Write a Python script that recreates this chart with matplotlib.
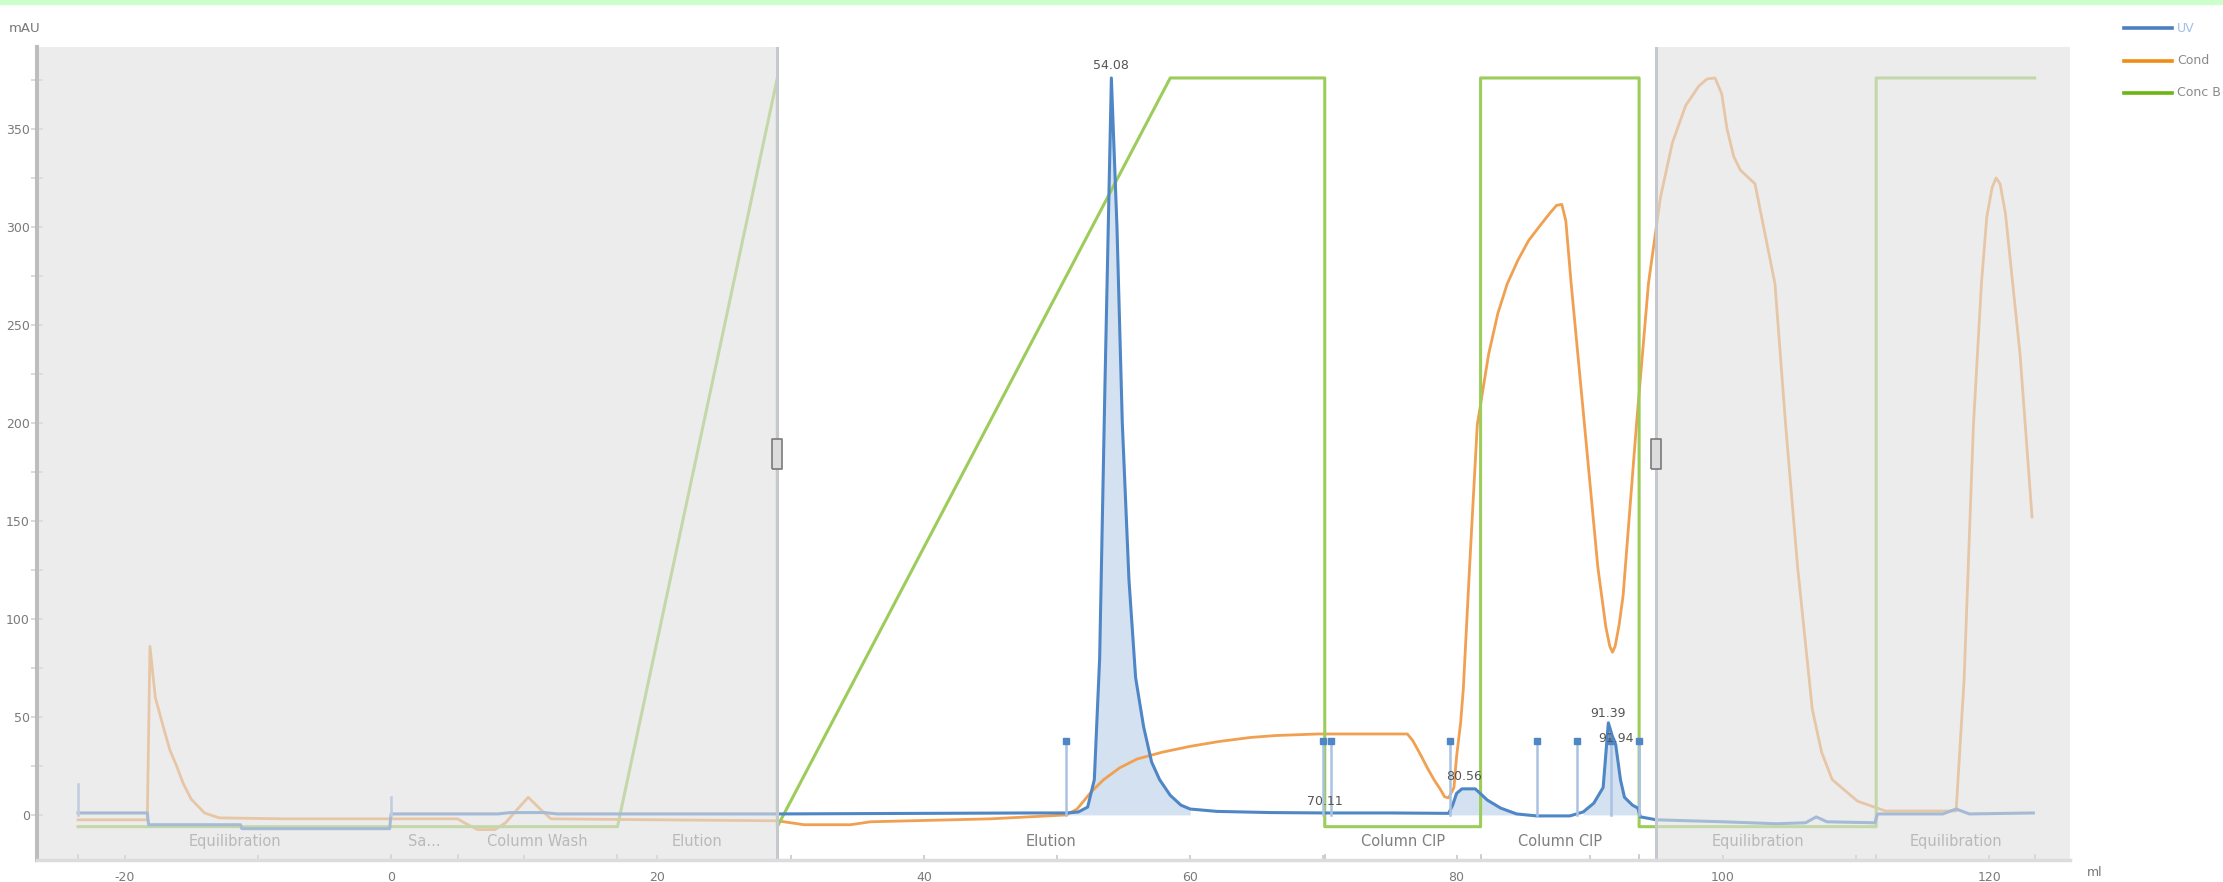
import matplotlib
matplotlib.use("Agg")
import matplotlib.pyplot as plt
from matplotlib.patches import Rectangle
from matplotlib.lines import Line2D
from matplotlib.ticker import MultipleLocator

plt.rcParams["axes.unicode_minus"] = False

# UV 280 nm trace (ml, mAU)
uv_ml = [-23.5, -18.3, -18.2, -11.3, -11.2, -0.1, 0.0, 8.0, 9.0, 11.5, 12.5, 29.0,
         40.0, 48.0, 50.7, 51.6, 52.3, 52.8, 53.2, 53.6, 54.08, 54.5, 54.9, 55.4,
         55.9, 56.5, 57.1, 57.7, 58.5, 59.3, 60.0, 62.0, 66.0, 70.1, 75.0, 79.4,
         79.7, 80.0, 80.4, 81.4, 82.3, 83.3, 84.5, 86.0, 88.5, 89.5, 90.3, 91.0,
         91.39, 91.7, 91.94, 92.3, 92.6, 93.2, 93.6, 93.8, 95.0, 100.0, 104.0,
         106.2, 107.0, 107.8, 111.4, 111.6, 116.5, 117.5, 118.5, 123.3]
uv_mau = [1.0, 1.0, -5.0, -5.0, -7.0, -7.0, 0.5, 0.5, 1.2, 1.2, 0.5, 0.5,
          0.8, 1.0, 1.0, 1.5, 4.0, 18.0, 80.0, 220.0, 376.0, 300.0, 200.0, 120.0,
          70.0, 45.0, 27.0, 18.0, 10.0, 5.0, 3.0, 1.8, 1.2, 1.0, 1.0, 0.8,
          5.0, 11.0, 13.3, 13.3, 7.6, 3.5, 0.5, -0.5, -0.5, 1.5, 6.0, 14.0,
          47.0, 40.0, 36.0, 18.0, 9.0, 5.0, 3.5, -1.0, -2.5, -3.5, -4.5,
          -4.0, -1.0, -3.5, -4.0, 0.5, 0.5, 3.0, 0.5, 1.0]

# conductivity trace, as drawn on the mAU scale
cond_ml = [-23.5, -18.3, -18.1, -17.7, -17.1, -16.6, -16.1, -15.6, -15.0, -14.0,
           -12.9, -8.0, 0.0, 5.0, 5.5, 6.5, 7.8, 8.6, 9.5, 10.3, 11.2, 12.0, 20.0,
           29.0, 31.0, 34.5, 36.0, 45.0, 50.7, 51.5, 52.6, 53.5, 54.7, 56.0, 57.9,
           60.0, 62.2, 64.5, 66.4, 69.6, 76.3, 76.7, 77.3, 77.8, 78.3, 78.8, 79.1,
           79.4, 79.8, 80.0, 80.3, 80.5, 81.0, 81.55, 82.4, 83.1, 83.8, 84.6, 85.4,
           86.3, 87.0, 87.5, 87.9, 88.2, 88.6, 89.6, 90.6, 91.2, 91.5, 91.7, 91.9,
           92.2, 92.5, 93.5, 94.4, 95.3, 96.2, 97.2, 98.2, 98.8, 99.4, 99.9, 100.3,
           100.8, 101.3, 102.4, 103.9, 104.7, 105.6, 106.7, 107.4, 108.2, 110.1,
           112.2, 117.5, 118.1, 118.8, 119.4, 119.8, 120.2, 120.5, 120.8, 121.2,
           122.3, 123.2]
cond_val = [-2.5, -2.5, 86.0, 60.0, 45.0, 33.0, 25.0, 16.0, 8.0, 1.0,
            -1.5, -2.0, -2.0, -2.0, -4.0, -7.5, -7.5, -4.0, 3.0, 9.0, 3.0, -2.0, -2.5,
            -3.0, -5.0, -5.0, -3.5, -2.0, 0.0, 3.0, 12.0, 18.0, 24.0, 28.5, 32.0,
            35.0, 37.5, 39.5, 40.5, 41.3, 41.3, 38.0, 30.6, 24.0, 18.0, 12.8, 9.2,
            8.7, 14.0, 30.0, 47.0, 64.0, 130.0, 199.0, 235.0, 256.0, 271.0, 283.0, 293.0,
            301.0, 307.0, 311.0, 311.5, 303.0, 271.0, 199.0, 126.5, 96.0, 86.0, 83.0, 86.0,
            97.0, 112.0, 199.0, 271.0, 315.0, 343.0, 362.0, 372.0, 375.5, 376.0, 368.0, 350.0,
            336.0, 329.0, 322.0, 271.0, 199.0, 126.5, 54.0, 32.0, 18.0, 7.0,
            2.0, 2.0, 69.0, 199.0, 271.0, 305.0, 320.0, 325.0, 322.0, 307.0,
            235.0, 152.0]

# concentration B (%)
concb_ml = [-23.5, 17.0, 29.0, 29.0, 58.5, 70.1, 70.1, 81.8, 81.8, 93.7, 93.7,
            111.5, 111.5, 123.4]
concb_pct = [0, 0, 100, 0, 100, 100, 0, 0, 100, 100, 0, 0, 100, 100]

series_names = ["UV", "Cond", "Conc B"]

phase_names = ["Equilibration", "Sa...", "Column Wash", "Elution", "Elution",
               "Column CIP", "Column CIP", "Equilibration", "Equilibration"]
phase_start = [-23.5, 0.0, 5.0, 17.0, 29.0, 70.1, 81.8, 93.7, 111.5]
phase_end = [0.0, 5.0, 17.0, 29.0, 70.1, 81.8, 93.7, 111.5, 123.4]

frac_ml = [50.7, 70.0, 70.6, 79.5, 86.0, 89.0, 91.6, 93.7]
frac_top = 37.8
event_ml = [-23.5, 0.0]
event_top = [15.8, 9.3]

peak_ml = [54.08, 70.11, 80.56, 91.39, 91.94]
peak_text = ["54.08", "70.11", "80.56", "91.39", "91.94"]
peak_text_y = [382.6, 6.6, 19.4, 51.5, 38.8]
peak_windows = [(50.7, 60.0), (79.4, 84.5), (89.0, 93.7)]

# run range and inactive (greyed) parts of the run
x_lo, x_hi = -26.58, 126.05
y_lo, y_hi = -23.0, 391.8
inactive = [(x_lo, 29.0), (95.0, x_hi)]
handle_y = 184

blue = "#4f86c6"
orange = "#f0a050"
green = "#9ccc5a"

W, H = 2223, 882
fig = plt.figure(figsize=(W / 100, H / 100), dpi=100)
fig.patches.append(Rectangle((0, 1 - 4 / H), 1, 4 / H, transform=fig.transFigure,
                             color="#ccffcc", zorder=0))
ax = fig.add_axes([37 / W, 1 - 860 / H, (2070 - 37) / W, (860 - 47) / H])
ax.set_facecolor("white")

# hidden axis giving the Conc B scale (0 % -> -6 mAU, 100 % -> 376 mAU)
axb = ax.twinx()
axb.set_ylim((y_lo + 6) / 3.82, (y_hi + 6) / 3.82)
axb.set_visible(False)

# peak fills
for a, b in peak_windows:
    xs = [x for x in uv_ml if a <= x <= b]
    ys = [y for x, y in zip(uv_ml, uv_mau) if a <= x <= b]
    ax.fill_between(xs, 0, ys, color="#d4e1f1", lw=0, zorder=1)

ax.plot(cond_ml, cond_val, color=orange, lw=2, zorder=2)
ax.plot(concb_ml, concb_pct, color=green, lw=2.2, zorder=2.5, transform=axb.transData)
ax.plot(uv_ml, uv_mau, color=blue, lw=2.2, zorder=3)

for x in frac_ml:
    ax.plot([x, x], [0, frac_top], color="#a9c2e3", lw=1.8, zorder=3.2)
    ax.plot([x], [frac_top], marker="s", ms=4, color=blue, zorder=3.3)
for x, t in zip(event_ml, event_top):
    ax.plot([x, x], [0, t], color="#8fb0da", lw=1.8, zorder=3.2)

for name, a, b in zip(phase_names, phase_start, phase_end):
    ax.text((a + b) / 2, -13.8, name, ha="center", va="center", fontsize=10.5,
            color="#7f7f7f", zorder=3.8)
    ax.plot([a, a], [y_lo, y_lo + 2.6], color="#c4c4c4", lw=1.2, zorder=3.8,
            clip_on=False)
ax.plot([phase_end[-1]] * 2, [y_lo, y_lo + 2.6], color="#c4c4c4", lw=1.2,
        zorder=3.8, clip_on=False)

# grey out the inactive part of the run
for a, b in inactive:
    ax.axvspan(a, b, color="#e0e0e0", alpha=0.6, lw=0, zorder=4)
for x in (inactive[0][1], inactive[1][0]):
    ax.axvline(x, color="#c5c9ce", lw=2.2, zorder=5)
    ax.plot([x], [handle_y], marker=[(-1, -3), (1, -3), (1, 3), (-1, 3), (-1, -3)],
            ms=21, mfc="#dcdcdc", mec="#7a7a7a", mew=1.2, zorder=6)

for x, s, y in zip(peak_ml, peak_text, peak_text_y):
    ax.text(x, y, s, ha="center", va="center", fontsize=9, color="#555555",
            zorder=7)

ax.set_xlim(x_lo, x_hi)
ax.set_ylim(y_lo, y_hi)
ax.xaxis.set_major_locator(MultipleLocator(20))
ax.xaxis.set_minor_locator(MultipleLocator(10))
ax.yaxis.set_major_locator(MultipleLocator(50))
ax.yaxis.set_minor_locator(MultipleLocator(25))
ax.tick_params(axis="y", which="both", direction="inout", length=8.6, width=1.2,
               color="#d4d4d4", labelsize=9, labelcolor="#7a7a7a", pad=1)
ax.tick_params(axis="x", which="both", direction="in", length=3.6, width=1.2,
               color="#c8c8c8", labelsize=9, labelcolor="#7a7a7a", pad=8)
for side in ("top", "right"):
    ax.spines[side].set_visible(False)
ax.spines["left"].set_color("#bdbdbd")
ax.spines["left"].set_linewidth(2.9)
ax.spines["bottom"].set_color("#dcdcdc")
ax.spines["bottom"].set_linewidth(2.5)
for sp in ax.spines.values():
    sp.set_zorder(10)

fig.text(25 / W, 1 - 28 / H, "mAU", ha="center", va="center", fontsize=9.5,
         color="#777777")
fig.text(2095 / W, 1 - 872 / H, "ml", ha="center", va="center", fontsize=9,
         color="#777777")

# legend drawn by hand in the top right corner
legend_y = [28, 61, 93]
legend_colors = ["#4a7fc1", "#f08c14", "#6cb414"]
legend_text_colors = ["#9fbfe6", "#8a8a8a", "#8a8a8a"]
for name, y, c, tc in zip(series_names, legend_y, legend_colors, legend_text_colors):
    fig.add_artist(Line2D([2124 / W, 2172 / W], [1 - y / H] * 2, color=c, lw=2.6,
                          transform=fig.transFigure))
    fig.text(2177 / W, 1 - y / H, name, ha="left", va="center", fontsize=9,
             color=tc)

fig.savefig("out.png", dpi=100)
